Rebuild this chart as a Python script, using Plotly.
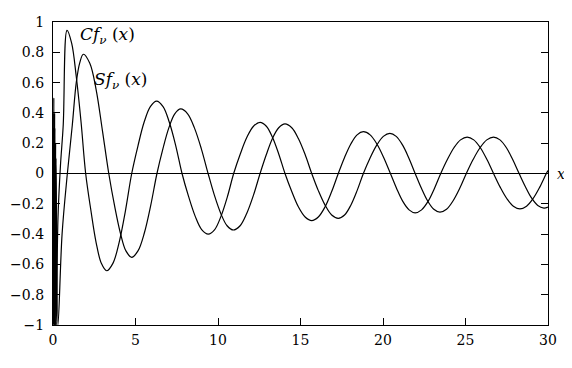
import plotly.graph_objects as go

# Cf_nu(x)
cf_x = [0.0, 0.03, 0.05, 0.08, 0.10, 0.13, 0.16, 0.2, 0.3, 0.45, 0.62, 0.85,
        1.13, 1.41, 1.70, 1.98, 2.30, 2.61, 2.93, 3.25, 3.63, 4.01, 4.39,
        4.77, 5.15, 5.52, 5.90, 6.28, 6.67, 7.05, 7.44,
        7.82, 8.22, 8.62, 9.01, 9.41, 9.80, 10.18, 10.57,
        10.95, 11.35, 11.75, 12.15, 12.55, 12.93, 13.30, 13.68,
        14.06, 14.47, 14.87, 15.28, 15.68, 16.08, 16.49, 16.89,
        17.29, 17.67, 18.05, 18.43, 18.81, 19.22, 19.63, 20.04,
        20.45, 20.83, 21.20, 21.58, 21.95, 22.34, 22.73, 23.11,
        23.5, 23.9, 24.3, 24.7, 25.1, 25.5, 25.9, 26.3,
        26.7, 27.1, 27.5, 27.9, 28.3, 28.7, 29.1, 29.5, 29.9, 30.0]
cf_y = [0.3, -1.0, 0.5, -1.0, 0.4, -1.0, 0.2, -1.0, -0.3, 0.05, 0.32, 0.945,
        0.86, 0.64, 0.34, 0.0, -0.246, -0.454, -0.593, -0.642, -0.593, -0.454, -0.246,
        0.0, 0.183, 0.338, 0.442, 0.478, 0.442, 0.338, 0.183,
        0.0, -0.153, -0.283, -0.370, -0.40, -0.370, -0.283, -0.153,
        0.0, 0.129, 0.239, 0.312, 0.338, 0.312, 0.239, 0.129,
        0.0, -0.119, -0.220, -0.287, -0.311, -0.287, -0.220, -0.119,
        0.0, 0.106, 0.195, 0.255, 0.276, 0.255, 0.195, 0.106,
        0.0, -0.100, -0.184, -0.240, -0.26, -0.240, -0.184, -0.100,
        0.0, 0.092, 0.170, 0.222, 0.24, 0.222, 0.170, 0.092,
        0.0, -0.090, -0.165, -0.216, -0.234, -0.216, -0.165, -0.090, 0.0, 0.02]

# Sf_nu(x)
sf_x = [0.0, 0.04, 0.07, 0.11, 0.14, 0.18, 0.3, 0.55, 0.87, 1.17, 1.41, 1.62, 1.84,
        2.23, 2.61, 3.0, 3.38, 3.73, 4.08, 4.42, 4.77, 5.15, 5.54, 5.92,
        6.3, 6.66, 7.02, 7.38, 7.74, 8.16, 8.57, 8.99,
        9.4, 9.78, 10.17, 10.55, 10.93, 11.34, 11.74, 12.15,
        12.55, 12.93, 13.30, 13.68, 14.06, 14.47, 14.87, 15.28,
        15.68, 16.08, 16.49, 16.89, 17.29, 17.67, 18.05, 18.43,
        18.81, 19.21, 19.62, 20.02, 20.42, 20.80, 21.19, 21.57,
        21.95, 22.33, 22.70, 23.08, 23.45, 23.85, 24.25, 24.65,
        25.05, 25.46, 25.88, 26.29, 26.7, 27.09, 27.48, 27.86,
        28.25, 28.63, 29.0, 29.38, 29.75, 30.0]
sf_y = [-0.9, 0.4, -1.0, 0.3, -1.0, 0.1, -1.0, -0.4, 0.0, 0.32, 0.6, 0.73, 0.787,
        0.727, 0.556, 0.28, 0.0, -0.212, -0.391, -0.511, -0.553, -0.511, -0.391, -0.212,
        0.0, 0.163, 0.301, 0.394, 0.426, 0.394, 0.301, 0.163,
        0.0, -0.143, -0.264, -0.345, -0.373, -0.345, -0.264, -0.143,
        0.0, 0.125, 0.231, 0.302, 0.327, 0.302, 0.231, 0.125,
        0.0, -0.113, -0.209, -0.274, -0.296, -0.274, -0.209, -0.113,
        0.0, 0.101, 0.187, 0.245, 0.265, 0.245, 0.187, 0.101,
        0.0, -0.098, -0.180, -0.236, -0.255, -0.236, -0.180, -0.098,
        0.0, 0.092, 0.170, 0.222, 0.24, 0.222, 0.170, 0.092,
        0.0, -0.087, -0.161, -0.211, -0.228, -0.222]

x_ticks = [0, 5, 10, 15, 20, 25, 30]
y_ticks = [-1, -0.8, -0.6, -0.4, -0.2, 0, 0.2, 0.4, 0.6, 0.8, 1]
y_labels = ["\u22121", "\u22120.8", "\u22120.6", "\u22120.4", "\u22120.2", "0",
            "0.2", "0.4", "0.6", "0.8", "1"]

font = "DejaVu Serif"

fig = go.Figure()
for xs, ys in ((cf_x, cf_y), (sf_x, sf_y)):
    fig.add_trace(go.Scatter(x=xs, y=ys, mode="lines",
                             line=dict(color="black", width=1.2, shape="spline", smoothing=1.0),
                             showlegend=False, hoverinfo="skip"))

# the page body has an 8px margin, so the figure is 8px smaller than the window
fig.update_layout(
    width=564, height=360,
    margin=dict(l=45, r=24, t=14, b=43, autoexpand=False),
    paper_bgcolor="white", plot_bgcolor="white",
    font=dict(family=font, size=14, color="black"),
    xaxis=dict(range=[0, 30], tickvals=x_ticks, ticks="inside", ticklen=7, tickwidth=1,
               tickcolor="black", showline=True, linecolor="black", linewidth=1.2,
               mirror=True, showgrid=False, zeroline=False, automargin=False,
               ticklabelstandoff=2, tickfont=dict(family=font, size=14)),
    yaxis=dict(range=[-1, 1], tickvals=y_ticks, ticktext=y_labels, ticks="inside", ticklen=7,
               tickwidth=1, tickcolor="black", showline=True, linecolor="black", linewidth=1.2,
               mirror="ticks", showgrid=False, zeroline=True, zerolinecolor="black",
               zerolinewidth=1, automargin=False, ticklabelstandoff=5,
               tickfont=dict(family=font, size=14)),
    annotations=[
        dict(x=1.5, y=0.91, xref="x", yref="y", xanchor="left", yanchor="middle",
             text="<i>Cf</i><sub><i>\u03bd</i></sub> (<i>x</i>)", showarrow=False,
             font=dict(family=font, size=17)),
        dict(x=2.35, y=0.615, xref="x", yref="y", xanchor="left", yanchor="middle",
             text="<i>Sf</i><sub><i>\u03bd</i></sub> (<i>x</i>)", showarrow=False,
             font=dict(family=font, size=17)),
        dict(x=1.0, y=0.0, xref="paper", yref="y", xanchor="left", yanchor="middle",
             xshift=7, text="<i>x</i>", showarrow=False, font=dict(family=font, size=14)),
    ],
)

fig.write_html("out.html")
